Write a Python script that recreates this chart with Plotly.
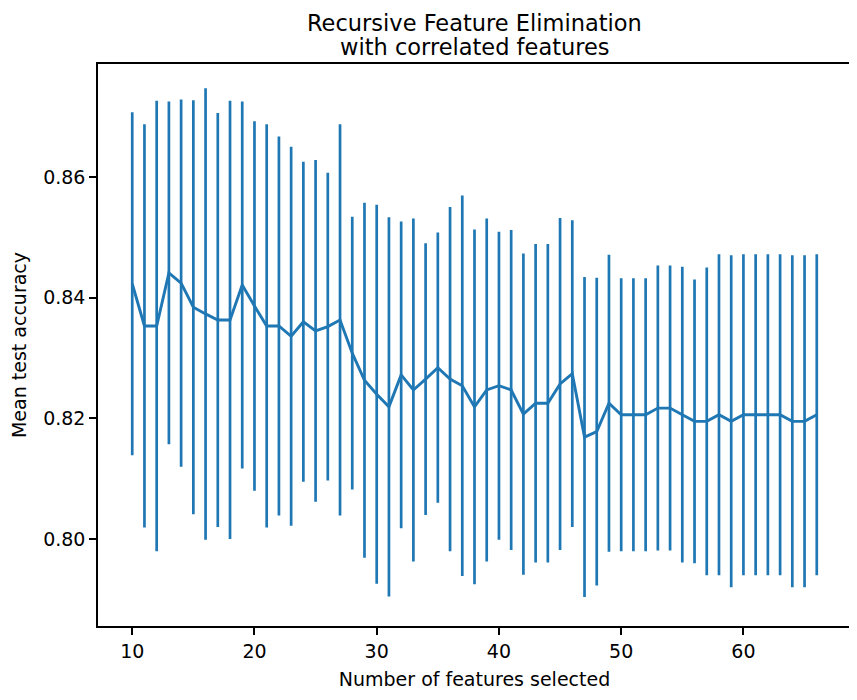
import plotly.graph_objects as go

n_features = list(range(10, 67))
mean_accuracy = [
    0.8423, 0.8353, 0.8353, 0.8441, 0.8424, 0.8384, 0.8373, 0.8363, 0.8363, 0.8421,
    0.8386, 0.8353, 0.8353, 0.8336, 0.8360, 0.8345, 0.8352, 0.8363, 0.8308, 0.8263,
    0.8240, 0.8219, 0.8272, 0.8247, 0.8265, 0.8284, 0.8265, 0.8254, 0.8219, 0.8247,
    0.8254, 0.8247, 0.8207, 0.8225, 0.8225, 0.8257, 0.8274, 0.8169, 0.8178, 0.8225,
    0.8206, 0.8206, 0.8206, 0.8217, 0.8217, 0.8206, 0.8195, 0.8195, 0.8206, 0.8195,
    0.8206, 0.8206, 0.8206, 0.8206, 0.8195, 0.8195, 0.8206,
]
std_accuracy = [
    0.0284, 0.0334, 0.0373, 0.0284, 0.0304, 0.0343, 0.0374, 0.0343, 0.0363, 0.0304,
    0.0306, 0.0334, 0.0314, 0.0314, 0.0265, 0.0283, 0.0255, 0.0324, 0.0226, 0.0294,
    0.0314, 0.0314, 0.0254, 0.0284, 0.0225, 0.0224, 0.0285, 0.0315, 0.0294, 0.0284,
    0.0255, 0.0265, 0.0266, 0.0264, 0.0264, 0.0275, 0.0254, 0.0265, 0.0255, 0.0246,
    0.0226, 0.0226, 0.0226, 0.0236, 0.0236, 0.0245, 0.0235, 0.0255, 0.0266, 0.0275,
    0.0266, 0.0266, 0.0266, 0.0266, 0.0275, 0.0275, 0.0266,
]
x_ticks = [10, 20, 30, 40, 50, 60]
y_ticks = [0.80, 0.82, 0.84, 0.86]
title_lines = ["Recursive Feature Elimination", "with correlated features"]

COLOR = "#1f77b4"
FONT = "DejaVu Sans"
W, H = 857, 700
L, R, T, B = 90, 14, 55.5, 82
PLOT_H = H - T - B

fig = go.Figure()
fig.add_trace(go.Scatter(
    x=n_features,
    y=mean_accuracy,
    mode="lines",
    line=dict(color=COLOR, width=2.9),
    error_y=dict(type="data", array=std_accuracy, symmetric=True,
                 color=COLOR, thickness=2.7, width=0),
    showlegend=False,
))

axis_common = dict(
    showgrid=False, zeroline=False, showline=True, mirror=True,
    linecolor="black", linewidth=1.5, automargin=False,
    ticks="outside", ticklen=7, tickwidth=1.5, tickcolor="black",
    tickfont=dict(family=FONT, size=19, color="black"),
)

# title lines as centered text above the plot area
for line_text, py in zip(title_lines, [14.5, 38]):
    fig.add_annotation(
        text=line_text, showarrow=False,
        xref="paper", yref="paper", x=0.5, xanchor="center",
        y=1 + (T - py) / PLOT_H, yanchor="middle",
        font=dict(family=FONT, size=22.5, color="black"),
    )

fig.update_layout(
    width=W, height=H,
    paper_bgcolor="white", plot_bgcolor="white",
    margin=dict(l=L, r=R, t=T, b=B, autoexpand=False),
    xaxis=dict(
        range=[7.2, 68.8], tickvals=x_ticks, ticktext=[str(v) for v in x_ticks],
        title=dict(text="Number of features selected",
                   font=dict(family=FONT, size=19, color="black"), standoff=12),
        **axis_common,
    ),
    yaxis=dict(
        range=[0.7856, 0.8787], tickvals=y_ticks, ticktext=[f"{v:.2f}" for v in y_ticks],
        title=dict(text="Mean test accuracy",
                   font=dict(family=FONT, size=19, color="black"), standoff=16),
        **axis_common,
    ),
)

fig.write_html("out.html")
